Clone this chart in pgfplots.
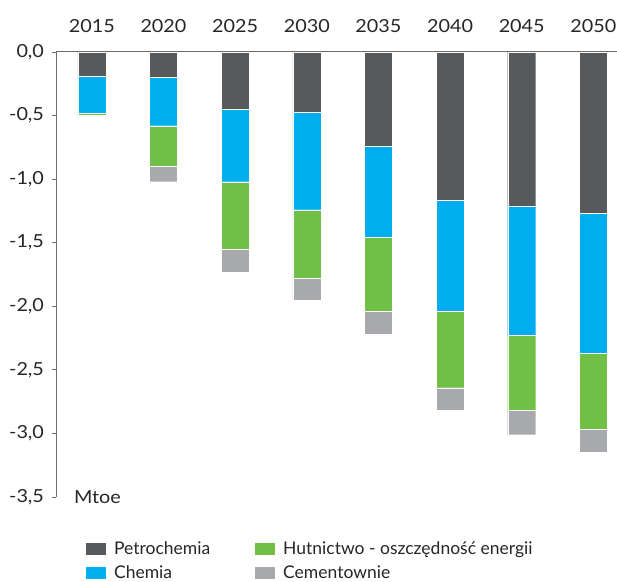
\documentclass[border=0pt]{standalone}
\usepackage{fontspec}
\setmainfont{Lato}
\newfontfamily\tickfont[FakeStretch=1.1]{Lato}
\usepackage{pgfplots}
\pgfplotsset{compat=1.18}

\definecolor{petro}{HTML}{58595B}
\definecolor{chem}{HTML}{00AEEF}
\definecolor{hut}{HTML}{71BF44}
\definecolor{cem}{HTML}{A7A9AC}
\definecolor{axgray}{HTML}{6D6E71}

\begin{document}
\fontsize{17.5}{20}\selectfont
\begin{tikzpicture}
\useasboundingbox (0,0) rectangle (617pt,581pt);
\begin{axis}[
    at={(56pt,84pt)}, anchor=south west,
    scale only axis,
    width=561pt, height=445pt,
    clip=false,
    ybar stacked, bar width=28pt,
    xmin=-0.5, xmax=7.33,
    ymin=-3.5, ymax=0,
    axis x line=top, axis y line=left,
    axis line style={-, draw=axgray, line width=1pt},
    xtick={0,1,2,3,4,5,6,7},
    xticklabels={2015,2020,2025,2030,2035,2040,2045,2050},
    x tick style={draw=none},
    xticklabel style={yshift=9pt},
    ytick={-3.5,-3,-2.5,-2,-1.5,-1,-0.5,0},
    y tick style={draw=axgray, line width=0.8pt},
    tick align=outside, major tick length=4pt,
    yticklabel style={/pgf/number format/fixed, /pgf/number format/fixed zerofill,
        /pgf/number format/precision=1, /pgf/number format/use comma,
        /pgf/number format/assume math mode=true, xshift=-2pt},
    tick label style={font=\tickfont\fontsize{18}{20}\selectfont, text=black!85},
    legend image code/.code={\fill[#1, draw=none] (0pt,-6pt) rectangle (20pt,6pt);},
    legend style={draw=none, fill=none, at={(0.048,-0.091)}, anchor=north west,
        font=\fontsize{17.5}{20}\selectfont, text=black!85,
        /tikz/every odd column/.append style={column sep=6pt},
        /tikz/every even column/.append style={column sep=43pt},
        row sep=4pt},
    legend columns=2, transpose legend, legend cell align=left,
]
% Petrochemia
\addplot[fill=petro, draw=white, line width=0.3pt] coordinates {
    (0,-0.19) (1,-0.20) (2,-0.45) (3,-0.47) (4,-0.74) (5,-1.165) (6,-1.21) (7,-1.27)};
% Chemia
\addplot[fill=chem, draw=white, line width=0.3pt] coordinates {
    (0,-0.29) (1,-0.38) (2,-0.57) (3,-0.77) (4,-0.72) (5,-0.875) (6,-1.02) (7,-1.10)};
% Hutnictwo
\addplot[fill=hut, draw=white, line width=0.3pt] coordinates {
    (0,-0.02) (1,-0.32) (2,-0.53) (3,-0.54) (4,-0.58) (5,-0.60) (6,-0.59) (7,-0.60)};
% Cementownie
\addplot[fill=cem, draw=white, line width=0.3pt] coordinates {
    (0,0) (1,-0.12) (2,-0.18) (3,-0.17) (4,-0.18) (5,-0.18) (6,-0.19) (7,-0.175)};
\legend{Petrochemia, Chemia, Hutnictwo - oszczędność energii, Cementownie}
\node[anchor=west, xshift=12pt, text=black!85, font=\tickfont\fontsize{18}{20}\selectfont] at (axis cs:-0.5,-3.5) {Mtoe};
\end{axis}
\end{tikzpicture}
\end{document}
